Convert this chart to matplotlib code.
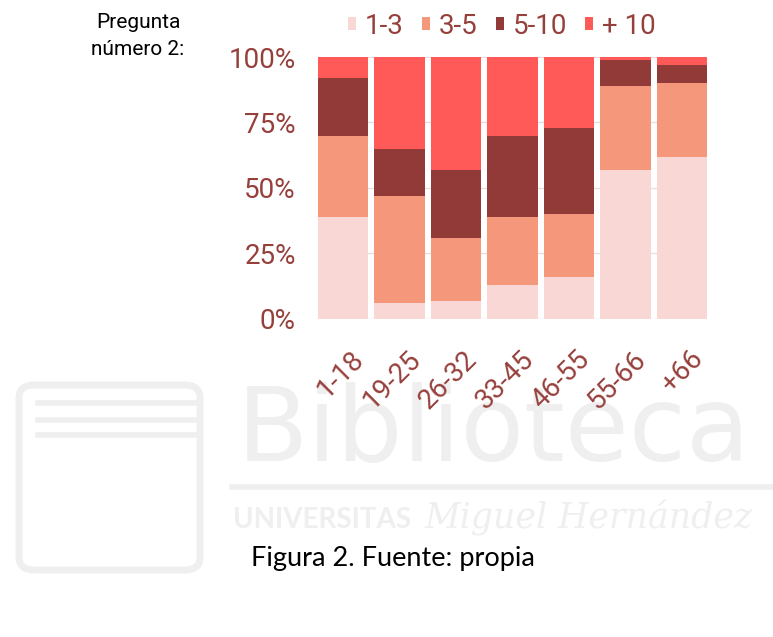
import matplotlib
matplotlib.use("Agg")
import matplotlib.pyplot as plt
import matplotlib.transforms as mtransforms
from matplotlib.patches import FancyBboxPatch
from matplotlib.lines import Line2D
import numpy as np

categories = ["1-18", "19-25", "26-32", "33-45", "46-55", "55-66", "+66"]
series_names = ["1-3", "3-5", "5-10", "+ 10"]
s_1_3 = [39, 6, 7, 13, 16, 57, 62]
s_3_5 = [31, 41, 24, 26, 24, 32, 28]
s_5_10 = [22, 18, 26, 31, 33, 10, 7]
s_10 = [8, 35, 43, 30, 27, 1, 3]
y_ticks = [0, 25, 50, 75, 100]
y_tick_labels = ["0%", "25%", "50%", "75%", "100%"]

colors = ["#F9D7D5", "#F4977A", "#923A38", "#FF5A58"]
text_red = "#96403C"

W, H = 773, 637
fig = plt.figure(figsize=(W / 100, H / 100), dpi=100)
fig.patch.set_facecolor("white")

# faint watermark (drawn beneath everything)
wm = "#EFEFEF"
fig.text(237 / W, 1 - 460 / H, "Biblioteca", fontsize=75, color=wm,
         family="DejaVu Sans", ha="left", va="baseline", zorder=-5)
fig.add_artist(Line2D([232 / W, 1.0], [1 - 487 / H, 1 - 487 / H], color=wm,
                      lw=4, transform=fig.transFigure, zorder=-5))
fig.text(233 / W, 1 - 528 / H, "UNIVERSITAS", fontsize=20, color=wm,
         family="Lato", weight="bold", ha="left", va="baseline", zorder=-5)
fig.text(425 / W, 1 - 528 / H, "Miguel Hernández", fontsize=25, color=wm,
         family="DejaVu Serif", style="italic", ha="left", va="baseline", zorder=-5)
box = FancyBboxPatch((19 / W, 1 - 570 / H), 181 / W, 185 / H,
                     boxstyle="round,pad=0,rounding_size=0.02",
                     transform=fig.transFigure, fill=False, ec=wm, lw=5, zorder=-5)
fig.add_artist(box)
for yy in [403, 420, 435]:
    fig.add_artist(Line2D([38 / W, 198 / W], [1 - yy / H, 1 - yy / H], color=wm,
                          lw=4, transform=fig.transFigure, zorder=-5))

ax = fig.add_axes([318 / W, 1 - 319 / H, 389 / W, 262 / H])
ax.set_zorder(2)
ax.set_facecolor("none")
x = np.arange(len(categories))
bottom = np.zeros(len(categories))
for vals, c, name in zip([s_1_3, s_3_5, s_5_10, s_10], colors, series_names):
    ax.bar(x, vals, bottom=bottom, width=0.885, color=c, label=name, zorder=3,
           edgecolor="none")
    bottom += np.array(vals)

ax.set_xlim(-0.4425, len(categories) - 1 + 0.4425)
ax.set_ylim(0, 100)
ax.set_yticks(y_ticks)
ax.set_yticklabels(y_tick_labels, fontsize=20, color=text_red, family="Roboto")
ax.set_xticks(x)
ax.set_xticklabels([])
# rotated category labels placed under each bar
base = mtransforms.blended_transform_factory(ax.transData, ax.transAxes)
offset = mtransforms.ScaledTranslation(17 / 100, -36 / 100, fig.dpi_scale_trans)
for xi, cat in zip(x, categories):
    ax.text(xi, 0, cat, transform=base + offset, rotation=45, ha="right",
            va="center", rotation_mode="anchor", fontsize=20, color=text_red,
            family="Roboto", clip_on=False)
ax.tick_params(axis="y", length=0, pad=16)
ax.tick_params(axis="x", length=0, pad=4)
ax.yaxis.grid(True, color="#EEDCDC", lw=1, zorder=0)
for s in ax.spines.values():
    s.set_visible(False)

leg = fig.legend(loc="center", bbox_to_anchor=(502 / W, 1 - 26 / H), ncol=4,
                 frameon=False, handlelength=0.29, handleheight=0.29,
                 handletextpad=0.32, columnspacing=0.65,
                 prop={"family": "Roboto", "size": 20})
for t in leg.get_texts():
    t.set_color(text_red)

fig.text(138 / W, 1 - 28 / H, "Pregunta", fontsize=15, family="Roboto",
         color="black", ha="center", va="baseline")
fig.text(138 / W, 1 - 55 / H, "número 2:", fontsize=15, family="Roboto",
         color="black", ha="center", va="baseline")

fig.text(251 / W, 1 - 566 / H, "Figura 2. Fuente: propia", fontsize=19.5,
         family="Lato", color="black", ha="left", va="baseline")

fig.savefig("out.png", dpi=100, facecolor="white")
